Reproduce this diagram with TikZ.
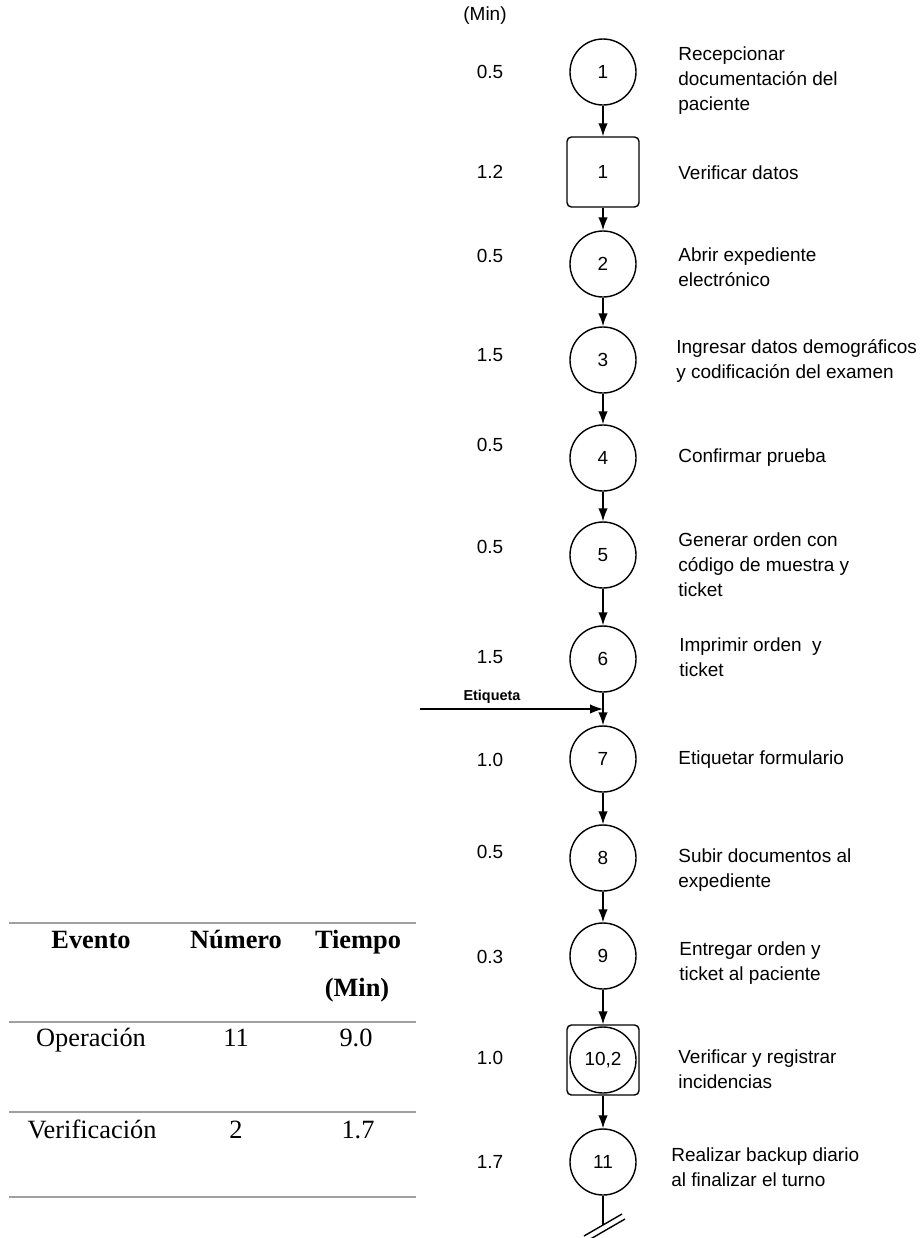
\documentclass[tikz,border=0pt]{standalone}
\usepackage{fontspec}
\setmainfont{Liberation Sans}
\newfontfamily\tabfont{Liberation Serif}
\usetikzlibrary{arrows.meta}
\newcommand{\fsz}{\fontsize{10.8}{14.2}\selectfont}
\newcommand{\tsz}{\tabfont\fontsize{15}{18}\selectfont}

\begin{document}
\begin{tikzpicture}[
  op/.style={draw, circle, line width=0.8pt, minimum size=1.32cm, inner sep=0pt, font=\fsz},
  chk/.style={draw, rounded corners=2.5pt, line width=0.8pt, minimum width=1.44cm, minimum height=1.40cm, inner sep=0pt, font=\fsz},
  tm/.style={font=\fsz},
  dsc/.style={anchor=west, align=left, font=\fsz, inner sep=0pt},
  flw/.style={line width=0.8pt, -{Latex[length=2.6mm,width=1.9mm]}},
  tbh/.style={font=\tsz\bfseries, text height=1.6ex, text depth=0.4ex},
  tbc/.style={font=\tsz, text height=1.6ex, text depth=0.4ex},
  rule/.style={draw=gray!75, line width=0.9pt}]
\useasboundingbox (0,0) rectangle (18.48,-24.76);
% process chart
\node[tm] (minhd) at (9.70,-0.32) {(Min)};
\node[op]  (op1) at (12.06,-1.44) {1};
\node[chk] (ver1) at (12.06,-3.44) {1};
\node[op]  (op2) at (12.06,-5.28) {2};
\node[op]  (op3) at (12.06,-7.20) {3};
\node[op]  (op4) at (12.06,-9.16) {4};
\node[op]  (op5) at (12.06,-11.10) {5};
\node[op]  (op6) at (12.06,-13.18) {6};
\node[op]  (op7) at (12.06,-15.18) {7};
\node[op]  (op8) at (12.06,-17.16) {8};
\node[op]  (op9) at (12.06,-19.12) {9};
\node[op]  (op10) at (12.06,-21.20) {10,2};
\node[chk] (ver2) at (12.06,-21.20) {};
\node[op]  (op11) at (12.06,-23.24) {11};
\foreach \a/\b in {op1/ver1, ver1/op2, op2/op3, op3/op4, op4/op5, op5/op6, op6/op7,
                   op7/op8, op8/op9, op9/ver2, ver2/op11}
  \draw[flw] (\a) -- (\b);
\foreach \t/\y [count=\i] in {0.5/-1.44, 1.2/-3.44, 0.5/-5.12, 1.5/-7.10, 0.5/-8.90, 0.5/-10.94,
                              1.5/-13.14, 1.0/-15.20, 0.5/-17.04, 0.3/-19.14, 1.0/-21.16, 1.7/-23.24}
  \node[tm] (tm\i) at (9.80,\y) {\t};
\node[dsc] (d1) at (13.56,-1.62) {Recepcionar\\documentación del\\paciente};
\node[dsc] (d2) at (13.56,-3.46) {Verificar datos};
\node[dsc] (d3) at (13.56,-5.34) {Abrir expediente\\electrónico};
\node[dsc] (d4) at (13.52,-7.22) {Ingresar datos demográficos\\y codificación del examen};
\node[dsc] (d5) at (13.56,-9.16) {Confirmar prueba};
\node[dsc] (d6) at (13.56,-11.30) {Generar orden con\\código de muestra y\\ticket};
\node[dsc] (d7) at (13.58,-13.14) {Imprimir orden\ \ y\\ticket};
\node[dsc] (d8) at (13.56,-15.20) {Etiquetar formulario};
\node[dsc] (d9) at (13.56,-17.40) {Subir documentos al\\expediente};
\node[dsc] (d10) at (13.58,-19.26) {Entregar orden y\\ticket al paciente};
\node[dsc] (d11) at (13.56,-21.38) {Verificar y registrar\\incidencias};
\node[dsc] (d12) at (13.42,-23.34) {Realizar backup diario\\al finalizar el turno};
% label coming in
\coordinate (tagin) at (8.40,-14.18);
\coordinate (tag) at (12.06,-14.18);
\draw[flw] (tagin) -- (tag);
\node[font=\fontsize{8.2}{10}\selectfont\bfseries] (tagtxt) at (9.84,-13.94) {Etiqueta};
% open end
\coordinate (fin) at (12.06,-24.50);
\draw[line width=0.8pt] (op11) -- (fin);
\draw[line width=0.8pt] (11.68,-24.72) -- (12.44,-24.28);
\draw[line width=0.8pt] (11.74,-24.82) -- (12.50,-24.38);
% summary table
\foreach \y in {-18.46,-20.44,-22.24,-23.94}
  \draw[rule] (0.18,\y) -- (8.32,\y);
\node[tbh] (h1) at (1.82,-18.86) {Evento};
\node[tbh] (h2) at (4.72,-18.86) {Número};
\node[tbh] (h3) at (7.16,-18.86) {Tiempo};
\node[tbh] (h4) at (7.14,-19.82) {(Min)};
\node[tbc] (r1) at (1.82,-20.82) {Operación};
\node[tbc] (r1n) at (4.72,-20.82) {11};
\node[tbc] (r1t) at (7.12,-20.82) {9.0};
\node[tbc] (r2) at (1.84,-22.66) {Verificación};
\node[tbc] (r2n) at (4.72,-22.66) {2};
\node[tbc] (r2t) at (7.16,-22.66) {1.7};
\end{tikzpicture}
\end{document}
